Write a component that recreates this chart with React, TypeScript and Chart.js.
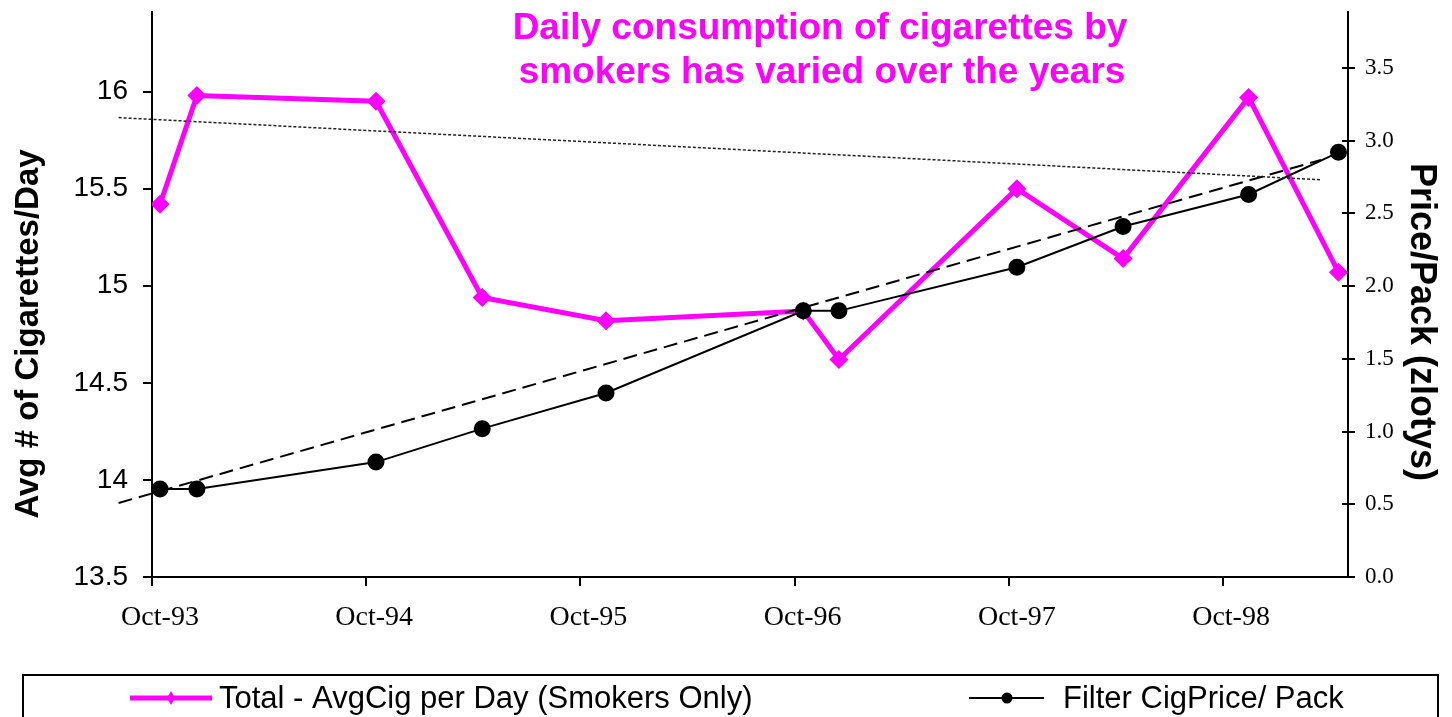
import React, { useEffect, useRef } from "react";
import { Chart, registerables } from "chart.js";

Chart.register(...registerables);

// ---- data ----
const surveyDates = [
  "1993-10-15", "1993-12-17", "1994-10-18", "1995-04-16", "1995-11-14",
  "1996-10-16", "1996-12-16", "1997-10-15", "1998-04-13", "1998-11-14", "1999-04-15",
];
const avgCigPerDay = [15.42, 15.98, 15.95, 14.94, 14.82, 14.87, 14.62, 15.5, 15.14, 15.97, 15.07];
const filterPricePerPack = [0.605, 0.605, 0.79, 1.02, 1.265, 1.83, 1.83, 2.13, 2.41, 2.63, 2.92];

const cigTrendDates = ["1993-08-05", "1999-03-16"];
const cigTrendValues = [15.866, 15.546];
const priceTrendDates = ["1993-08-05", "1999-03-16"];
const priceTrendValues = [0.509, 2.868];

const xTickMonths = [0, 12, 24, 36, 48, 60];
const xTickLabels = ["Oct-93", "Oct-94", "Oct-95", "Oct-96", "Oct-97", "Oct-98"];
const leftTicks = [13.5, 14, 14.5, 15, 15.5, 16];
const rightTicks = [0, 0.5, 1, 1.5, 2, 2.5, 3, 3.5];

const titleLines = ["Daily consumption of cigarettes by", "smokers has varied over the years"];
const leftTitle = "Avg # of Cigarettes/Day";
const rightTitle = "Price/Pack (zlotys)";
const seriesNames = ["Total - AvgCig per Day (Smokers Only)", "Filter CigPrice/ Pack"];

// months since 1 Oct 1993
function monthsFromOct93(date: string): number {
  const [y, m, d] = date.split("-").map(Number);
  const dim = new Date(y, m, 0).getDate();
  return (y - 1993) * 12 + (m - 10) + (d - 1) / dim;
}

const PINK = "#FF00FF";
const SANS = "'Liberation Sans', Arial, sans-serif";
const SERIF = "'Liberation Serif', 'Times New Roman', serif";

const noPad = (s: any) => {
  s.paddingTop = 0;
  s.paddingBottom = 0;
  s.paddingLeft = 0;
  s.paddingRight = 0;
};

const decorPlugin = {
  id: "decor",
  afterDraw(chart: any) {
    const ctx: CanvasRenderingContext2D = chart.ctx;
    const y2 = chart.scales.y2;
    ctx.save();

    // inner ticks of the right axis (cross ticks)
    ctx.strokeStyle = "#000";
    ctx.lineWidth = 2;
    rightTicks.forEach((v) => {
      const py = Math.round(y2.getPixelForValue(v));
      ctx.beginPath();
      ctx.moveTo(y2.left - 6, py);
      ctx.lineTo(y2.left, py);
      ctx.stroke();
    });

    // title
    ctx.fillStyle = PINK;
    ctx.font = `bold 37px ${SANS}`;
    ctx.textAlign = "center";
    ctx.textBaseline = "alphabetic";
    ctx.fillText(titleLines[0], 820, 39);
    ctx.fillText(titleLines[1], 822, 83);

    // axis titles
    ctx.fillStyle = "#000";
    ctx.font = `bold 33px ${SANS}`;
    ctx.save();
    ctx.translate(38, 334);
    ctx.rotate(-Math.PI / 2);
    ctx.fillText(leftTitle, 0, 0);
    ctx.restore();

    ctx.font = `bold 36px ${SANS}`;
    ctx.save();
    ctx.translate(1411, 322);
    ctx.rotate(Math.PI / 2);
    ctx.fillText(rightTitle, 0, 0);
    ctx.restore();

    // legend box
    ctx.strokeStyle = "#000";
    ctx.lineWidth = 2;
    ctx.strokeRect(23, 675, 1415, 80);

    const ly = 698;
    // pink sample
    ctx.strokeStyle = PINK;
    ctx.lineWidth = 5;
    ctx.beginPath();
    ctx.moveTo(130, ly);
    ctx.lineTo(212, ly);
    ctx.stroke();
    ctx.fillStyle = PINK;
    ctx.beginPath();
    ctx.moveTo(171, ly - 7);
    ctx.lineTo(175, ly);
    ctx.lineTo(171, ly + 7);
    ctx.lineTo(167, ly);
    ctx.closePath();
    ctx.fill();

    // black sample
    ctx.strokeStyle = "#000";
    ctx.lineWidth = 2;
    ctx.beginPath();
    ctx.moveTo(969, ly);
    ctx.lineTo(1044, ly);
    ctx.stroke();
    ctx.fillStyle = "#000";
    ctx.beginPath();
    ctx.arc(1007, ly, 5.5, 0, Math.PI * 2);
    ctx.fill();

    // legend texts
    ctx.font = `31px ${SANS}`;
    ctx.textAlign = "left";
    ctx.textBaseline = "alphabetic";
    ctx.fillStyle = "#000";
    ctx.fillText(seriesNames[0], 219, 708);
    ctx.fillText(seriesNames[1], 1063, 708);

    ctx.restore();
  },
};

export default function App() {
  const ref = useRef<HTMLCanvasElement>(null);

  useEffect(() => {
    document.body.style.margin = "0";
    const canvas = ref.current;
    if (!canvas) return;

    const pinkData = surveyDates.map((d, i) => ({ x: monthsFromOct93(d), y: avgCigPerDay[i] }));
    const blackData = surveyDates.map((d, i) => ({ x: monthsFromOct93(d), y: filterPricePerPack[i] }));
    const cigTrend = cigTrendDates.map((d, i) => ({ x: monthsFromOct93(d), y: cigTrendValues[i] }));
    const priceTrend = priceTrendDates.map((d, i) => ({ x: monthsFromOct93(d), y: priceTrendValues[i] }));

    const chart = new Chart(canvas, {
      type: "line",
      data: {
        datasets: [
          {
            label: "cig trend",
            data: cigTrend,
            yAxisID: "y",
            borderColor: "#222",
            borderWidth: 1.5,
            borderDash: [3, 2],
            pointRadius: 0,
            clip: false as any,
            order: 0,
          },
          {
            label: "price trend",
            data: priceTrend,
            yAxisID: "y2",
            borderColor: "#000",
            borderWidth: 2,
            borderDash: [14, 7],
            pointRadius: 0,
            clip: false as any,
            order: 1,
          },
          {
            label: seriesNames[1],
            data: blackData,
            yAxisID: "y2",
            borderColor: "#000",
            backgroundColor: "#000",
            borderWidth: 2,
            pointRadius: 7.5,
            pointStyle: "circle",
            order: 2,
          },
          {
            label: seriesNames[0],
            data: pinkData,
            yAxisID: "y",
            borderColor: PINK,
            backgroundColor: PINK,
            borderWidth: 5,
            pointRadius: 6,
            pointStyle: "rectRot",
            order: 3,
          },
        ],
      },
      options: {
        animation: false,
        responsive: false,
        maintainAspectRatio: false,
        layout: { padding: { top: 12, left: 0, right: 0, bottom: 77 } },
        elements: { line: { tension: 0 } },
        plugins: {
          legend: { display: false },
          tooltip: { enabled: false },
          title: { display: false },
        },
        scales: {
          x: {
            type: "linear",
            min: 0,
            max: 67,
            afterBuildTicks: (s: any) => {
              s.ticks = xTickMonths.map((v) => ({ value: v }));
            },
            afterFit: (s: any) => {
              s.height = 63;
              noPad(s);
            },
            border: { display: true, color: "#000", width: 2 },
            grid: { drawOnChartArea: false, drawTicks: true, tickLength: 9, color: "#000", lineWidth: 2 },
            ticks: {
              autoSkip: false,
              maxRotation: 0,
              padding: 15,
              labelOffset: 8,
              color: "#000",
              font: { family: SERIF, size: 28 },
              callback: (v: any) => {
                const i = xTickMonths.indexOf(Number(v));
                return i >= 0 ? xTickLabels[i] : "";
              },
            },
          },
          y: {
            type: "linear",
            position: "left",
            min: 13.5,
            max: 16.41,
            afterBuildTicks: (s: any) => {
              s.ticks = leftTicks.map((v) => ({ value: v }));
            },
            afterFit: (s: any) => {
              s.width = 152;
              noPad(s);
            },
            border: { display: true, color: "#000", width: 2 },
            grid: { drawOnChartArea: false, drawTicks: true, tickLength: 9, color: "#000", lineWidth: 2 },
            ticks: {
              padding: 15,
              color: "#000",
              font: { family: SANS, size: 28 },
              callback: (v: any) => String(v),
            },
          },
          y2: {
            type: "linear",
            position: "right",
            min: 0,
            max: 3.885,
            afterBuildTicks: (s: any) => {
              s.ticks = rightTicks.map((v) => ({ value: v }));
            },
            afterFit: (s: any) => {
              s.width = 104;
              noPad(s);
            },
            border: { display: true, color: "#000", width: 2 },
            grid: { drawOnChartArea: false, drawTicks: true, tickLength: 7, color: "#000", lineWidth: 2 },
            ticks: {
              padding: 10,
              color: "#000",
              font: { family: SERIF, size: 23 },
              callback: (v: any) => Number(v).toFixed(1),
            },
          },
        },
      },
      plugins: [decorPlugin],
    });

    return () => chart.destroy();
  }, []);

  return (
    <div style={{ position: "absolute", left: 0, top: 0, width: 1452, height: 717, background: "#fff" }}>
      <canvas ref={ref} width={1452} height={717} style={{ width: 1452, height: 717, display: "block" }} />
    </div>
  );
}
